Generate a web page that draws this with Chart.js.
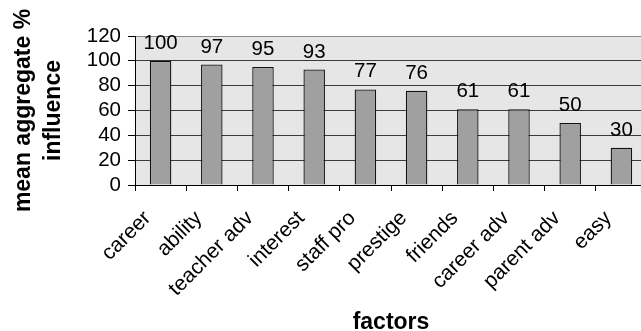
<!DOCTYPE html>
<html>
<head>
<meta charset="utf-8">
<script src="https://cdn.jsdelivr.net/npm/chart.js@4/dist/chart.umd.min.js"></script>
<style>
  html, body { margin: 0; padding: 0; background: #fff; overflow: hidden; }
  #wrap { width: 660px; height: 331px; }
</style>
</head>
<body>
<div id="wrap"><canvas id="factorsChart" width="660" height="331"></canvas></div>
<script>
var factors = ["career", "ability", "teacher adv", "interest", "staff pro",
  "prestige", "friends", "career adv", "parent adv", "easy"];
var influence = [100, 97, 95, 93, 77, 76, 61, 61, 50, 30];
var yTicks = [0, 20, 40, 60, 80, 100, 120];

var FONT = "'Liberation Sans', Arial, sans-serif";

// grey plot background like the original spreadsheet chart
var plotBg = {
  id: "plotBg",
  beforeDraw: function (chart) {
    var a = chart.chartArea, c = chart.ctx;
    c.save();
    c.fillStyle = "#e6e6e6";
    c.fillRect(a.left, a.top, a.right - a.left, a.bottom - a.top);
    c.restore();
  }
};

// value above each bar
var barValues = {
  id: "barValues",
  afterDatasetsDraw: function (chart) {
    var c = chart.ctx;
    var meta = chart.getDatasetMeta(0);
    c.save();
    c.font = "20.5px " + FONT;
    c.fillStyle = "#000";
    c.textAlign = "center";
    c.textBaseline = "alphabetic";
    meta.data.forEach(function (bar, i) {
      c.fillText(String(influence[i]), bar.x, bar.y - 12);
    });
    c.restore();
  }
};

new Chart(document.getElementById("factorsChart"), {
  type: "bar",
  data: {
    labels: factors,
    datasets: [{
      data: influence,
      backgroundColor: "#a0a0a0",
      borderColor: "#111",
      borderWidth: 1.3,
      barPercentage: 0.42,
      categoryPercentage: 1
    }]
  },
  options: {
    responsive: false,
    animation: false,
    layout: { padding: { top: 36, right: 13, left: 0, bottom: 0 } },
    plugins: {
      legend: { display: false },
      tooltip: { enabled: false }
    },
    scales: {
      x: {
        offset: true,
        grid: {
          offset: true,
          drawOnChartArea: false,
          tickLength: 6,
          tickColor: "#000"
        },
        border: { color: "#000", width: 1 },
        ticks: {
          autoSkip: false,
          minRotation: 45,
          maxRotation: 45,
          padding: 15,
          labelOffset: -13,
          color: "#000",
          font: { family: FONT, size: 21 }
        },
        title: {
          display: true,
          text: "factors",
          color: "#000",
          font: { family: FONT, size: 23, weight: "bold", lineHeight: 0.75 },
          padding: { top: 0, bottom: 0 }
        },
        afterFit: function (s) { s.height = 146; }
      },
      y: {
        min: 0,
        max: 120,
        afterBuildTicks: function (s) {
          s.ticks = yTicks.map(function (v) { return { value: v }; });
        },
        grid: {
          color: function (ctx) {
            return ctx.tick && ctx.tick.value === 120 ? "#8a8a8a" : "#3a3a3a";
          },
          tickColor: "#000",
          tickLength: 7,
          lineWidth: 1
        },
        border: { color: "#000", width: 1 },
        ticks: {
          autoSkip: false,
          padding: 7,
          color: "#000",
          font: { family: FONT, size: 20.5 }
        },
        title: {
          display: true,
          text: ["mean aggregate %", "influence"],
          color: "#000",
          font: { family: FONT, size: 23, weight: "bold", lineHeight: 1.28 },
          padding: { top: 9, bottom: 0 }
        },
        afterFit: function (s) { s.width = 135; }
      }
    }
  },
  plugins: [plotBg, barValues]
});
</script>
</body>
</html>
